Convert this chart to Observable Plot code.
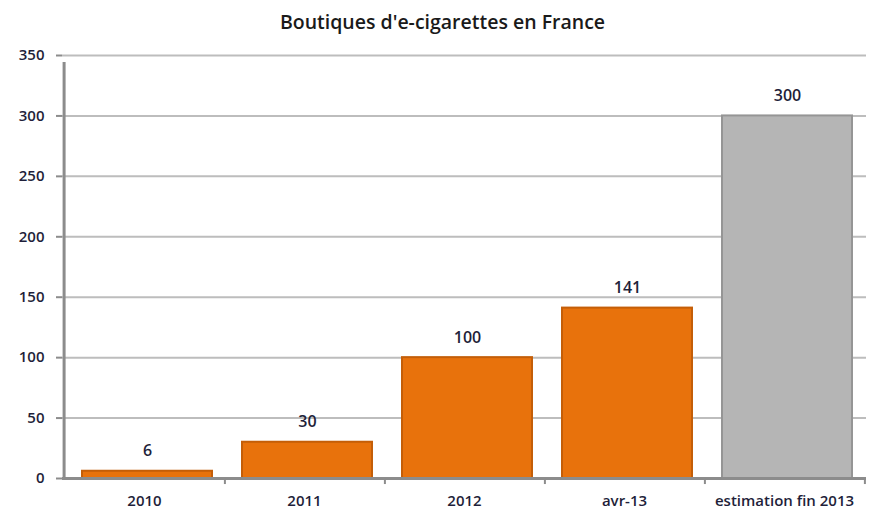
<!DOCTYPE html>
<html><head><meta charset="utf-8">
<script src="https://cdn.jsdelivr.net/npm/d3@7"></script>
<script src="https://cdn.jsdelivr.net/npm/@observablehq/plot@0.6"></script>
<style>body{margin:0;background:#fff}</style>
</head><body><div id="chart"></div>
<script>
const title = "Boutiques d'e-cigarettes en France";
const categories = ["2010", "2011", "2012", "avr-13", "estimation fin 2013"];
const values = [6, 30, 100, 141, 300];
const estimated = [false, false, false, false, true];
const yTicks = [0, 50, 100, 150, 200, 250, 300, 350];

const data = categories.map((c, i) => ({cat: c, value: values[i], est: estimated[i]}));
const font = "'Open Sans', Lato, sans-serif";
const txt = "#1f1f3a";
const step = 804 / 5;

const chart = Plot.plot({
  width: 878, height: 515,
  marginLeft: 62, marginRight: 12, marginTop: 55, marginBottom: 37,
  style: {fontFamily: font, background: "#fff"},
  x: {domain: categories, paddingInner: 0.19, paddingOuter: 0.095, axis: null, label: null},
  y: {domain: [0, 350], axis: null, label: null},
  marks: [
    Plot.gridY(yTicks, {stroke: "#bdbdbd", strokeOpacity: 1, strokeWidth: 2}),
    Plot.barY(data, {x: "cat", y: "value", fill: d => d.est ? "#b5b5b5" : "#e8720c",
      stroke: d => d.est ? "#959595" : "#c45e08", strokeWidth: 2, dx: 3}),
    Plot.text(data, {x: "cat", y: "value", text: d => String(d.value), dy: -20, dx: 3,
      fontSize: 16, fill: txt, fontWeight: 600}),
    Plot.ruleY([0], {stroke: "#8c8c8c", strokeWidth: 3}),
    Plot.ruleX([categories[0]], {x: d => d, y1: 0, y2: 350, stroke: "#8c8c8c", strokeWidth: 3, dx: -step / 2, insetBottom: -7}),
    Plot.axisY(yTicks, {label: null, tickSize: 6, tickPadding: 12, fontSize: 15, fontWeight: 600, color: txt, stroke: "#8c8c8c", strokeWidth: 2}),
    Plot.axisX({label: null, tickSize: 0, tickPadding: 17, fontSize: 15, fontWeight: 600, color: txt}),
    Plot.ruleX(categories, {x: d => d, dx: step / 2, y1: 0, y2: -5, stroke: "#8c8c8c", strokeWidth: 2}),
    Plot.text([title], {frameAnchor: "top", dy: -40, dx: -22, fontSize: 19.5, fontWeight: 600, fill: "#1a1a1a"})
  ]
});
document.getElementById("chart").append(chart);
</script></body></html>
